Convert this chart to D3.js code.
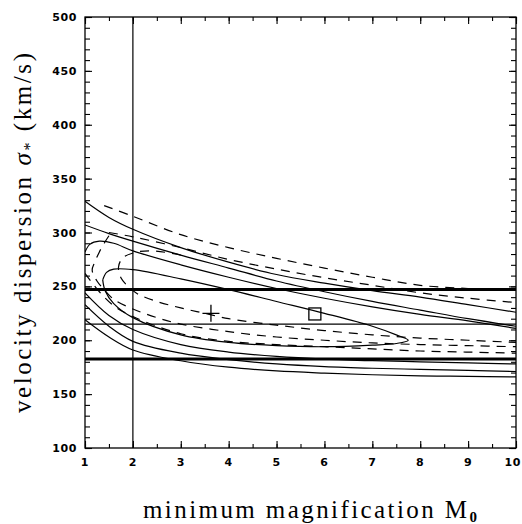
<!DOCTYPE html>
<meta charset="utf-8">
<style>
body { margin: 0; background: #fff; }
svg { display: block; }
.tick-label { font: bold 11px "DejaVu Sans", sans-serif; letter-spacing: 0.6px; fill: #000; }
.title { font-family: "Liberation Serif", "DejaVu Serif", serif; font-size: 25px; fill: #000; }
.frame { fill: none; stroke: #000; stroke-width: 1.3; }
.contour { fill: none; stroke: #000; stroke-width: 1.2; }
.contour.dashed { stroke-dasharray: 9,7; }
</style>
<body>
<script src="https://d3js.org/d3.v7.min.js"></script>
<script>

var width = 522,
    height = 524,
    margin = {top: 17, right: 6, bottom: 76, left: 85};

// axis ticks
var xMajor = [1, 2, 3, 4, 5, 6, 7, 8, 9, 10];
var yMajor = [100, 150, 200, 250, 300, 350, 400, 450, 500];

// horizontal reference lines (sigma values) and vertical M0 = 2
var thickLines = [247, 182.5];
var thinLines = [215];
var vLines = [2];

// solid contours
var solidU1 = [[1,329],[1.5,314],[2,303],[3,286],[4,272.5],[5,261],[6,253],[7,246],[8,240],[9,233],[10,226]];
var solidU2 = [[1,307],[1.5,299],[2,292],[3,279],[4,267],[5,255],[6,245],[7,236],[8,228],[9,220],[10,213]];
var solidU3 = [[1,282],[1.1,289],[1.3,292],[1.6,290],[2,283],[3,270],[4,258.5],[5,248],[6,239],[7,231],[8,224],[9,218],[10,211]];
var solidLoop = [[1.37,256],[1.45,263],[1.6,266],[2,265.5],[3,257],[4,247],[5,236],[6,225],[7,213],[7.5,205],[7.75,200],
                 [7.5,197],[7,195.5],[6,194],[5,195],[4,198],[3,205],[2,221],[1.6,234],[1.42,246],[1.37,256]];
var solidL1 = [[1,244],[1.5,223],[2,210],[3,196],[4,189],[5,185],[6,182.5],[7,181],[8,180],[9,179],[10,178]];
var solidL2 = [[1,233],[1.5,213],[2,199],[3,188],[4,182],[5,178],[6,175.5],[7,174],[8,173],[9,172],[10,171]];
var solidL3 = [[1,219],[1.5,203],[2,191],[3,181],[4,175],[5,171.5],[6,169.5],[7,168],[8,167],[9,166.5],[10,166]];

// dashed contours
var dashU1 = [[1.4,325],[2,315],[3,298],[4,286],[5,276],[6,267],[7,258.5],[8,251],[9,248],[10,246.5]];
var dashU2 = [[1.5,300],[2,296],[3,286],[4,275],[5,266],[6,258],[7,251],[8,244],[9,239],[10,235]];
var dashLoopA = [[1.5,297],[1.4,290],[1.3,282],[1.2,272],[1.15,265],[1.25,255],[1.4,247],[1.6,238],[2,229],[2.5,221],
                 [3,215],[4,208],[5,203],[6,200],[7,197.5],[8,196],[9,195],[10,194]];
var dashLoopB = [[3,279],[2.4,283],[2,281],[1.78,276],[1.7,268],[1.75,258],[1.9,250],[2.1,243],[2.5,236],[3,230],
                 [3.5,225],[4,220],[5,214],[6,209],[7,205],[8,202],[9,200],[10,198]];
var dashL1 = [[1,262],[1.3,245],[1.6,232],[2,222],[3,206],[4,199],[5,196],[6,194],[7,192],[8,190],[9,189],[10,188]];

// best-fit markers
var plusPt = [3.63, 225];
var squarePt = [5.8, 224.4];

var solids = [solidU1, solidU2, solidU3, solidLoop, solidL1, solidL2, solidL3];
var dashes = [dashU1, dashU2, dashLoopA, dashLoopB, dashL1];

var x = d3.scaleLinear().domain([1, 10]).range([margin.left, width - margin.right]);
var y = d3.scaleLinear().domain([100, 500]).range([height - margin.bottom, margin.top]);

var svg = d3.select("body").append("svg")
    .attr("width", width)
    .attr("height", height);

var defs = svg.append("defs");
defs.append("clipPath").attr("id", "clip")
  .append("rect")
    .attr("x", x(1)).attr("y", y(500))
    .attr("width", x(10) - x(1)).attr("height", y(100) - y(500));

var plot = svg.append("g").attr("clip-path", "url(#clip)");

var line = d3.line()
    .x(function(d) { return x(d[0]); })
    .y(function(d) { return y(d[1]); })
    .curve(d3.curveCatmullRom.alpha(0.5));

plot.selectAll(".solid")
    .data(solids)
  .enter().append("path")
    .attr("class", "contour")
    .attr("d", line);

plot.selectAll(".dash")
    .data(dashes)
  .enter().append("path")
    .attr("class", "contour dashed")
    .attr("d", line);

// reference lines
plot.selectAll(".thick")
    .data(thickLines)
  .enter().append("line")
    .attr("x1", x(1)).attr("x2", x(10))
    .attr("y1", y).attr("y2", y)
    .attr("stroke", "#000").attr("stroke-width", 3);

plot.selectAll(".thin")
    .data(thinLines)
  .enter().append("line")
    .attr("x1", x(1)).attr("x2", x(10))
    .attr("y1", y).attr("y2", y)
    .attr("stroke", "#000").attr("stroke-width", 1.2);

plot.selectAll(".vline")
    .data(vLines)
  .enter().append("line")
    .attr("x1", x).attr("x2", x)
    .attr("y1", y(100)).attr("y2", y(500))
    .attr("stroke", "#000").attr("stroke-width", 1.2);

// markers
var px = x(plusPt[0]), py = y(plusPt[1]);
svg.append("path")
    .attr("d", "M" + (px - 8.5) + "," + py + "H" + (px + 8.5) + "M" + px + "," + (py - 8.5) + "V" + (py + 8.5))
    .attr("stroke", "#000").attr("stroke-width", 1.3);

svg.append("rect")
    .attr("x", x(squarePt[0]) - 6).attr("y", y(squarePt[1]) - 6)
    .attr("width", 12).attr("height", 12)
    .attr("fill", "none").attr("stroke", "#000").attr("stroke-width", 1.3);

// axes: ticks point inward on all four sides
svg.append("g")
    .attr("transform", "translate(0," + y(100) + ")")
    .call(d3.axisBottom(x).tickValues(d3.range(1, 10.01, 0.5)).tickSize(-4).tickFormat(""));
svg.append("g")
    .attr("transform", "translate(0," + y(100) + ")")
    .call(d3.axisBottom(x).tickValues(xMajor).tickSize(-7).tickFormat(""));
svg.append("g")
    .attr("transform", "translate(0," + y(500) + ")")
    .call(d3.axisTop(x).tickValues(d3.range(1, 10.01, 0.5)).tickSize(-4).tickFormat(""));
svg.append("g")
    .attr("transform", "translate(0," + y(500) + ")")
    .call(d3.axisTop(x).tickValues(xMajor).tickSize(-7).tickFormat(""));
svg.append("g")
    .attr("transform", "translate(" + x(1) + ",0)")
    .call(d3.axisLeft(y).tickValues(d3.range(100, 501, 10)).tickSize(-5).tickFormat(""));
svg.append("g")
    .attr("transform", "translate(" + x(1) + ",0)")
    .call(d3.axisLeft(y).tickValues(yMajor).tickSize(-7).tickFormat(""));
svg.append("g")
    .attr("transform", "translate(" + x(10) + ",0)")
    .call(d3.axisRight(y).tickValues(d3.range(100, 501, 10)).tickSize(-5).tickFormat(""));
svg.append("g")
    .attr("transform", "translate(" + x(10) + ",0)")
    .call(d3.axisRight(y).tickValues(yMajor).tickSize(-7).tickFormat(""));

svg.selectAll(".domain").remove();
svg.selectAll(".tick line").attr("stroke", "#000").attr("stroke-width", 1.1);

svg.append("rect")
    .attr("class", "frame")
    .attr("x", x(1)).attr("y", y(500))
    .attr("width", x(10) - x(1)).attr("height", y(100) - y(500));

// tick labels (the last one is pulled in so it stays inside the page)
svg.selectAll(".xlab")
    .data(xMajor)
  .enter().append("text")
    .attr("class", "tick-label")
    .attr("x", function(d) { return d === 10 ? width - 1 : x(d); })
    .attr("y", y(100) + 18)
    .attr("text-anchor", function(d) { return d === 10 ? "end" : "middle"; })
    .text(function(d) { return d; });

svg.selectAll(".ylab")
    .data(yMajor)
  .enter().append("text")
    .attr("class", "tick-label")
    .attr("x", 77).attr("y", function(d) { return y(d) + 4; })
    .attr("text-anchor", "end")
    .text(function(d) { return d; });

// axis titles
var xt = svg.append("text")
    .attr("class", "title")
    .attr("x", 143).attr("y", 518)
    .attr("textLength", 334)
    .attr("lengthAdjust", "spacing");
xt.append("tspan").text("minimum magnification M");
xt.append("tspan").attr("dy", 4).attr("font-size", "15px").attr("font-weight", "bold").text("0");

var yt = svg.append("text")
    .attr("class", "title")
    .attr("transform", "translate(31,413) rotate(-90)")
    .attr("textLength", 360)
    .attr("lengthAdjust", "spacing");
yt.append("tspan").text("velocity dispersion ");
yt.append("tspan").attr("font-style", "italic").text("σ");
yt.append("tspan").attr("dy", 4).attr("font-size", "16px").text("*");
yt.append("tspan").attr("dy", -4).text("  (km/s)");

</script>
